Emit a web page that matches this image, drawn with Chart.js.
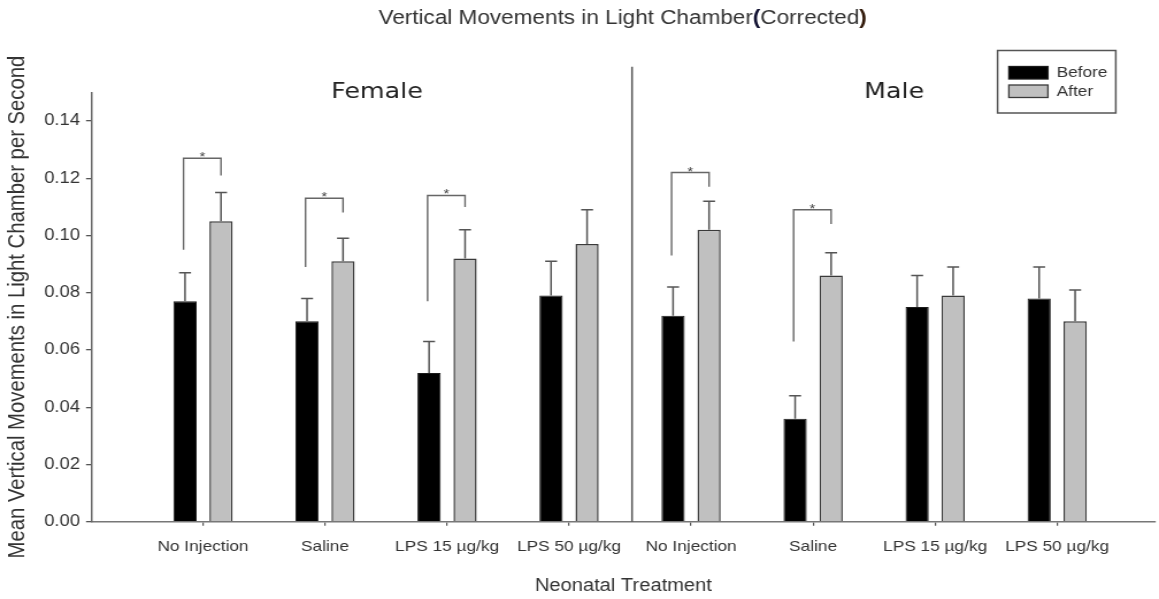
<!DOCTYPE html>
<html>
<head>
<meta charset="utf-8">
<title>Vertical Movements in Light Chamber (Corrected)</title>
<script src="https://cdn.jsdelivr.net/npm/chart.js@4.4.1/dist/chart.umd.min.js"></script>
<style>
  html, body { margin: 0; padding: 0; background: #fff; overflow: hidden; }
  /* the plot is laid out on a narrower canvas and widened to the page */
  #wrap { width: 1008px; height: 599px; transform: scaleX(1.1498); transform-origin: 0 0; }
</style>
</head>
<body>
<div id="wrap"><canvas id="chart" width="1008" height="599"></canvas></div>
<script>
// ---- data -------------------------------------------------------------
const categories = [
  'No Injection', 'Saline', 'LPS 15 µg/kg', 'LPS 50 µg/kg',
  'No Injection', 'Saline', 'LPS 15 µg/kg', 'LPS 50 µg/kg'
];
const beforeMeans  = [0.077, 0.070, 0.052, 0.079, 0.072, 0.036, 0.075, 0.078];
const beforeErrors = [0.010, 0.008, 0.011, 0.012, 0.010, 0.008, 0.011, 0.011];
const afterMeans   = [0.105, 0.091, 0.092, 0.097, 0.102, 0.086, 0.079, 0.070];
const afterErrors  = [0.010, 0.008, 0.010, 0.012, 0.010, 0.008, 0.010, 0.011];
const yTicks = [0.00, 0.02, 0.04, 0.06, 0.08, 0.10, 0.12, 0.14];

// significance brackets: left leg end, top bar, right leg end (null = none)
const sigLeftEnd  = [0.095, 0.089, 0.077, null, 0.093, 0.063, null, null];
const sigTop      = [0.127, 0.113, 0.114, null, 0.122, 0.109, null, null];
const sigRightEnd = [0.121, 0.108, 0.110, null, 0.117, 0.104, null, null];

const groupLabels = ['Female', 'Male'];

// ---- placement of panel decorations (in axis units) -------------------
const panelLayout = {
  labelX: [1.426, 5.664],
  labelY: 0.150,
  dividerX: 3.516,
  dividerTop: 0.159
};

const FONT = "'Liberation Sans', Arial, Helvetica, sans-serif";
const INK = '#333';
Chart.defaults.font.family = FONT;
Chart.defaults.color = INK;

// error bars, brackets, divider and panel names
const overlayPlugin = {
  id: 'overlay',
  afterDatasetsDraw(chart) {
    const { ctx, scales: { x, y } } = chart;
    const metaB = chart.getDatasetMeta(0);
    const metaA = chart.getDatasetMeta(1);
    ctx.save();
    ctx.lineCap = 'butt';

    // upward error bars with caps
    ctx.strokeStyle = '#555';
    ctx.lineWidth = 1.5;
    const capHalf = 5.2;
    [[metaB, beforeMeans, beforeErrors], [metaA, afterMeans, afterErrors]].forEach(([meta, means, errs]) => {
      meta.data.forEach((bar, i) => {
        const yTop = y.getPixelForValue(means[i] + errs[i]);
        const yBase = y.getPixelForValue(means[i]);
        ctx.beginPath();
        ctx.moveTo(bar.x, yBase);
        ctx.lineTo(bar.x, yTop);
        ctx.moveTo(bar.x - capHalf, yTop);
        ctx.lineTo(bar.x + capHalf, yTop);
        ctx.stroke();
      });
    });

    // significance brackets
    ctx.strokeStyle = '#666';
    ctx.lineWidth = 1.4;
    ctx.fillStyle = '#444';
    ctx.font = `13px ${FONT}`;
    ctx.textAlign = 'center';
    ctx.textBaseline = 'alphabetic';
    categories.forEach((_, i) => {
      if (sigTop[i] == null) return;
      const xl = metaB.data[i].x - 1.3;
      const xr = metaA.data[i].x;
      const yt = y.getPixelForValue(sigTop[i]);
      ctx.beginPath();
      ctx.moveTo(xl, y.getPixelForValue(sigLeftEnd[i]));
      ctx.lineTo(xl, yt);
      ctx.lineTo(xr, yt);
      ctx.lineTo(xr, y.getPixelForValue(sigRightEnd[i]));
      ctx.stroke();
      ctx.fillText('*', (xl + xr) / 2, yt + 3);
    });

    // divider between the two panels
    const xd = x.getPixelForValue(panelLayout.dividerX);
    ctx.strokeStyle = '#555';
    ctx.lineWidth = 1.5;
    ctx.beginPath();
    ctx.moveTo(xd, y.getPixelForValue(0));
    ctx.lineTo(xd, y.getPixelForValue(panelLayout.dividerTop));
    ctx.stroke();

    // panel names
    ctx.fillStyle = '#222';
    ctx.font = "22px 'DejaVu Sans', Verdana, sans-serif";
    ctx.textBaseline = 'middle';
    groupLabels.forEach((t, k) => {
      ctx.fillText(t, x.getPixelForValue(panelLayout.labelX[k]), y.getPixelForValue(panelLayout.labelY));
    });
    ctx.restore();
  }
};

// chart title with bold brackets
const titlePlugin = {
  id: 'chartTitle',
  afterDraw(chart) {
    const { ctx } = chart;
    const parts = [
      { t: 'Vertical Movements in Light Chamber', bold: false, c: INK },
      { t: '(', bold: true, c: '#101030' },
      { t: 'Corrected', bold: false, c: INK },
      { t: ')', bold: true, c: '#301808' }
    ];
    const size = 19.6;
    ctx.save();
    ctx.textBaseline = 'middle';
    ctx.textAlign = 'left';
    let total = 0;
    parts.forEach(p => {
      ctx.font = `${p.bold ? 'bold ' : ''}${size}px ${FONT}`;
      p.w = ctx.measureText(p.t).width;
      total += p.w;
    });
    let cx = 541.5 - total / 2;
    parts.forEach(p => {
      ctx.font = `${p.bold ? 'bold ' : ''}${size}px ${FONT}`;
      ctx.fillStyle = p.c;
      ctx.fillText(p.t, cx, 19);
      cx += p.w;
    });
    ctx.restore();
  }
};

// boxed legend in the upper right corner
const legendBoxPlugin = {
  id: 'legendBox',
  afterDraw(chart) {
    const { ctx } = chart;
    const box = { l: 867.6, t: 50.5, r: 970.4, b: 113 };
    ctx.save();
    ctx.fillStyle = '#fff';
    ctx.fillRect(box.l, box.t, box.r - box.l, box.b - box.t);
    ctx.strokeStyle = '#555';
    ctx.lineWidth = 1.5;
    ctx.strokeRect(box.l, box.t, box.r - box.l, box.b - box.t);
    const rows = [66.5, 85];
    chart.data.datasets.forEach((ds, k) => {
      const ty = rows[k];
      ctx.fillStyle = ds.backgroundColor;
      ctx.fillRect(877.4, ty, 34, 12.5);
      ctx.strokeStyle = ds.borderColor;
      ctx.lineWidth = 1.3;
      ctx.strokeRect(877.4, ty, 34, 12.5);
      ctx.fillStyle = INK;
      ctx.font = `15px ${FONT}`;
      ctx.textBaseline = 'middle';
      ctx.textAlign = 'left';
      ctx.fillText(ds.label, 919, ty + 6.5);
    });
    ctx.restore();
  }
};

new Chart(document.getElementById('chart'), {
  type: 'bar',
  data: {
    datasets: [
      {
        label: 'Before',
        data: beforeMeans.map((v, i) => ({ x: i, y: v })),
        backgroundColor: '#000000',
        borderColor: '#1a1a1a',
        borderWidth: 1,
        categoryPercentage: 0.59,
        barPercentage: 0.645
      },
      {
        label: 'After',
        data: afterMeans.map((v, i) => ({ x: i, y: v })),
        backgroundColor: '#c0c0c0',
        borderColor: '#3a3a3a',
        borderWidth: 1.5,
        categoryPercentage: 0.59,
        barPercentage: 0.645
      }
    ]
  },
  options: {
    responsive: false,
    animation: false,
    devicePixelRatio: 1,
    layout: { padding: { top: 92.4, right: 3.7, left: 0, bottom: 0 } },
    plugins: { legend: { display: false }, tooltip: { enabled: false } },
    scales: {
      x: {
        type: 'linear',
        min: -0.91,
        max: 7.8,
        offset: false,
        afterBuildTicks: s => { s.ticks = categories.map((_, i) => ({ value: i })); },
        afterFit: s => { s.height = 77.3; },
        grid: { offset: false, drawOnChartArea: false, drawTicks: true, tickLength: 4, color: '#555', lineWidth: 1.2 },
        border: { display: true, color: '#777', width: 1.6 },
        ticks: {
          autoSkip: false, maxRotation: 0, minRotation: 0, padding: 12.5,
          font: { size: 15 }, color: INK,
          callback: (v, i) => categories[i]
        },
        title: {
          display: true, text: 'Neonatal Treatment', color: INK,
          font: { size: 17.5 }, padding: { top: 0, bottom: 2.5 }
        }
      },
      y: {
        min: 0,
        max: 0.15,
        afterBuildTicks: s => { s.ticks = yTicks.map(v => ({ value: v })); },
        afterFit: s => { s.width = 80; },
        grid: { drawOnChartArea: false, drawTicks: true, tickLength: 5.2, color: '#555', lineWidth: 1.3 },
        border: { display: true, color: '#666', width: 1.5 },
        ticks: {
          padding: 5.2, font: { size: 16 }, color: INK,
          callback: v => Number(v).toFixed(2)
        },
        title: {
          display: true, text: 'Mean Vertical Movements in Light Chamber per Second', color: INK,
          font: { size: 20.3 }, padding: { top: 3.7, bottom: 0 }
        }
      }
    }
  },
  plugins: [overlayPlugin, titlePlugin, legendBoxPlugin]
});
</script>
</body>
</html>
